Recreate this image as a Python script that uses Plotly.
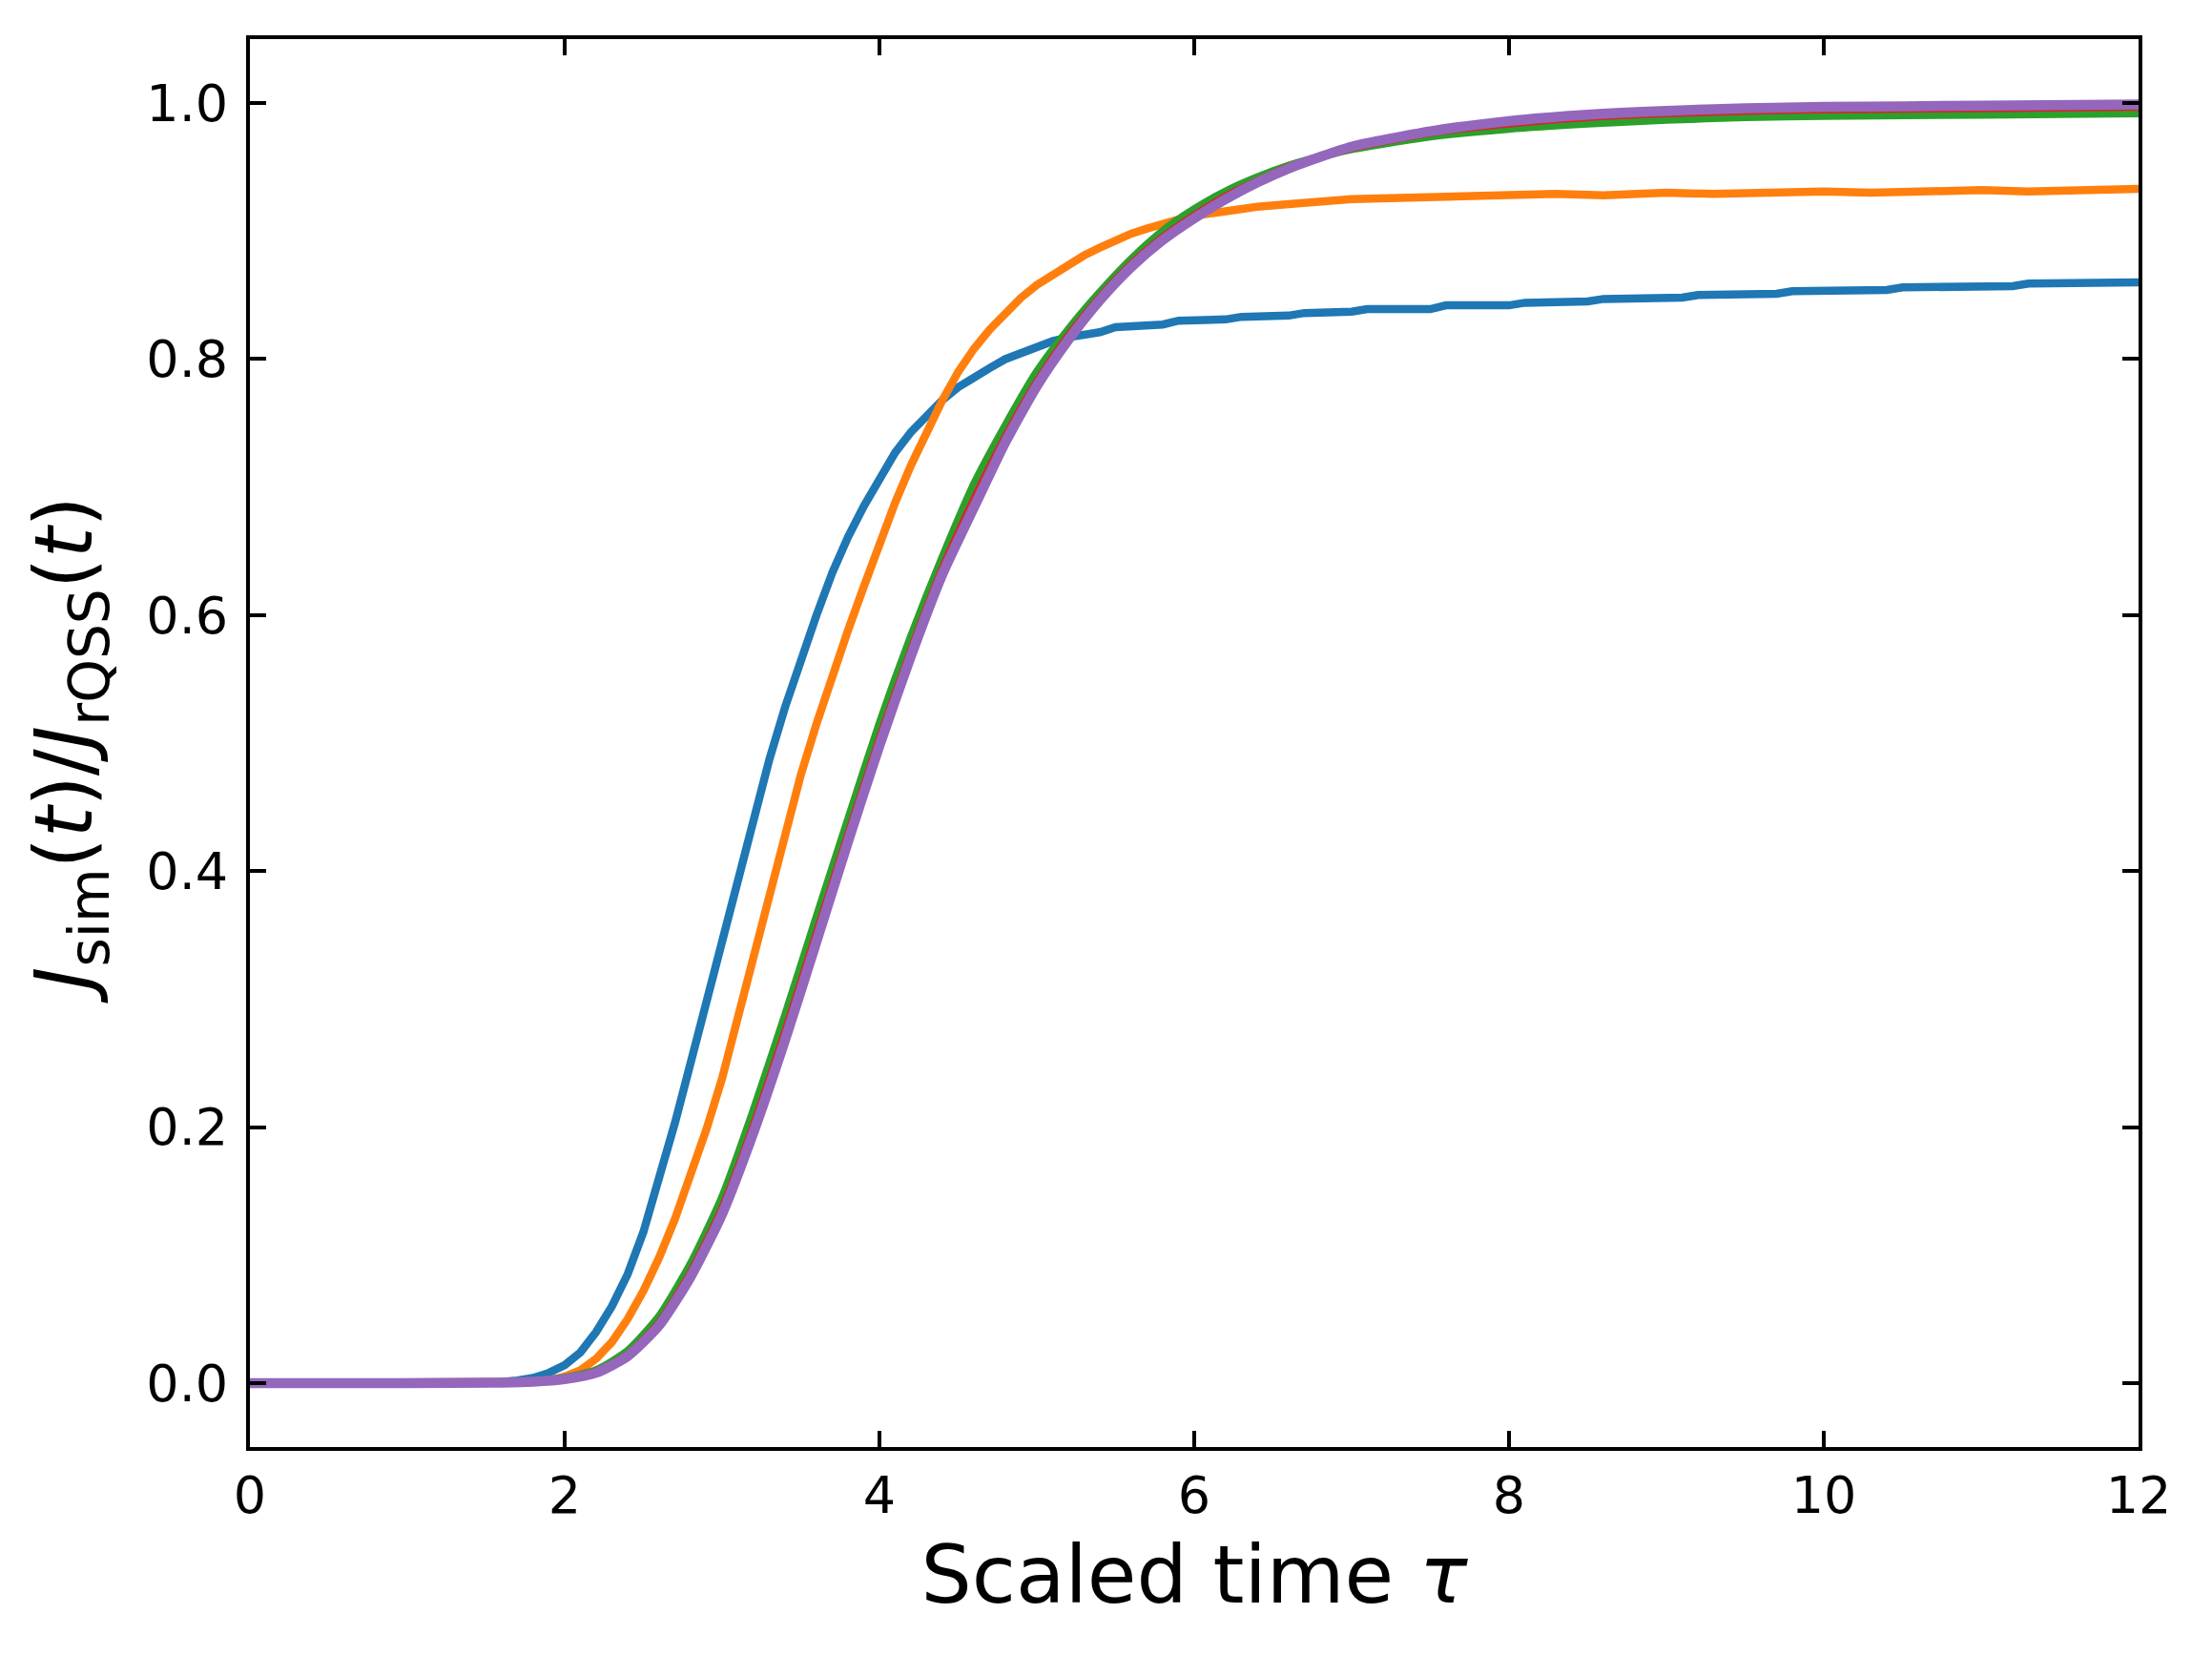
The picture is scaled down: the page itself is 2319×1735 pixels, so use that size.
"""
Normalised current J_sim / J_rQSS versus scaled time.
"""

import plotly.graph_objects as go

# blue curve (staircase plateau)
t_blue = [0, 1.5, 1.7, 1.8, 1.9, 2.0, 2.1, 2.2, 2.3, 2.4, 2.5, 2.6, 2.7, 2.8, 2.9,
          3.0, 3.1, 3.2, 3.3, 3.4, 3.5, 3.6, 3.7, 3.8, 3.9, 4.0, 4.1, 4.2, 4.3, 4.4,
          4.5, 4.6, 4.7, 4.8, 4.9, 5.0, 5.1, 5.2, 5.3, 5.4, 5.5, 5.8, 5.9, 6.2, 6.3,
          6.6, 6.7, 7.0, 7.1, 7.5, 7.6, 8.0, 8.1, 8.5, 8.6, 9.1, 9.2, 9.7, 9.8,
          10.4, 10.5, 11.2, 11.3, 12.0]
j_blue = [0, 0, 0.002, 0.004, 0.008, 0.014, 0.024, 0.04, 0.06, 0.085, 0.118, 0.158,
          0.203, 0.25, 0.298, 0.348, 0.397, 0.443, 0.487, 0.528, 0.566, 0.6, 0.633,
          0.661, 0.685, 0.706, 0.727, 0.743, 0.756, 0.768, 0.778, 0.786, 0.793, 0.8,
          0.805, 0.809, 0.814, 0.817, 0.819, 0.821, 0.825, 0.827, 0.83, 0.831, 0.833,
          0.834, 0.836, 0.837, 0.839, 0.839, 0.842, 0.842, 0.844, 0.845, 0.847, 0.848,
          0.85, 0.851, 0.853, 0.854, 0.856, 0.857, 0.859, 0.86]

# orange curve
t_orange = [0, 1.7, 1.8, 1.9, 2.0, 2.1, 2.2, 2.3, 2.4, 2.5, 2.6, 2.7, 2.8, 2.9, 3.0,
            3.1, 3.2, 3.3, 3.4, 3.5, 3.6, 3.7, 3.8, 3.9, 4.0, 4.1, 4.2, 4.3, 4.4, 4.5,
            4.6, 4.7, 4.8, 4.9, 5.0, 5.1, 5.2, 5.3, 5.4, 5.5, 5.6, 5.7, 5.8, 5.9, 6.0,
            6.2, 6.4, 6.6, 6.8, 7.0, 7.3, 7.6, 8.0, 8.3, 8.6, 9.0, 9.3, 9.6, 10.0,
            10.3, 10.6, 11.0, 11.3, 11.6, 12.0]
j_orange = [0, 0, 0.001, 0.002, 0.005, 0.01, 0.019, 0.032, 0.05, 0.072, 0.098, 0.128,
            0.162, 0.198, 0.238, 0.285, 0.335, 0.385, 0.432, 0.475, 0.515, 0.553, 0.588,
            0.622, 0.656, 0.688, 0.717, 0.744, 0.768, 0.79, 0.808, 0.823, 0.836, 0.848,
            0.858, 0.866, 0.874, 0.881, 0.887, 0.893, 0.898, 0.902, 0.906, 0.909, 0.912,
            0.916, 0.919, 0.921, 0.923, 0.925, 0.926, 0.927, 0.928, 0.929, 0.928, 0.93,
            0.929, 0.93, 0.931, 0.93, 0.931, 0.932, 0.931, 0.932, 0.933]

# smooth curves share one time grid
t_smooth = [0, 1.0, 1.6, 1.8, 2.0, 2.2, 2.4, 2.6, 2.8, 3.0, 3.2, 3.4, 3.6, 3.8, 4.0,
            4.2, 4.4, 4.6, 4.8, 5.0, 5.2, 5.4, 5.6, 5.8, 6.0, 6.2, 6.4, 6.6, 6.8, 7.0,
            7.5, 8.0, 8.5, 9.0, 9.5, 10.0, 11.0, 12.0]
j_green = [0, 0, 0.0005, 0.0015, 0.004, 0.01, 0.025, 0.052, 0.093, 0.145, 0.213, 0.287,
           0.364, 0.44, 0.515, 0.583, 0.645, 0.702, 0.748, 0.79, 0.823, 0.852, 0.878,
           0.9, 0.917, 0.931, 0.942, 0.951, 0.958, 0.964, 0.974, 0.98, 0.984, 0.987,
           0.989, 0.99, 0.991, 0.992]
j_red = [0, 0, 0.0004, 0.0012, 0.003, 0.009, 0.022, 0.047, 0.086, 0.136, 0.201, 0.274,
         0.351, 0.428, 0.503, 0.572, 0.636, 0.69, 0.739, 0.782, 0.818, 0.848, 0.874,
         0.895, 0.912, 0.927, 0.939, 0.95, 0.958, 0.965, 0.977, 0.984, 0.989, 0.992,
         0.994, 0.995, 0.996, 0.997]
j_purple = [0, 0, 0.0003, 0.001, 0.003, 0.008, 0.021, 0.045, 0.083, 0.132, 0.196, 0.268,
            0.345, 0.423, 0.498, 0.568, 0.632, 0.684, 0.735, 0.779, 0.815, 0.846, 0.872,
            0.893, 0.91, 0.925, 0.938, 0.949, 0.958, 0.966, 0.978, 0.986, 0.991, 0.994,
            0.996, 0.997, 0.998, 0.999]

FONT = "DejaVu Sans"

fig = go.Figure()
fig.add_trace(go.Scatter(x=t_blue, y=j_blue, mode="lines",
                         line=dict(color="#1f77b4", width=8.5)))
fig.add_trace(go.Scatter(x=t_orange, y=j_orange, mode="lines",
                         line=dict(color="#ff7f0e", width=8.5)))
fig.add_trace(go.Scatter(x=t_smooth, y=j_green, mode="lines",
                         line=dict(color="#2ca02c", width=8.5, shape="spline", smoothing=0.6)))
fig.add_trace(go.Scatter(x=t_smooth, y=j_red, mode="lines",
                         line=dict(color="#d62728", width=8.5, shape="spline", smoothing=0.6)))
fig.add_trace(go.Scatter(x=t_smooth, y=j_purple, mode="lines",
                         line=dict(color="#9467bd", width=10.5, shape="spline", smoothing=0.6)))

axis_style = dict(
    showline=True, linecolor="black", linewidth=4, mirror="ticks",
    ticks="inside", ticklen=17, tickwidth=4, tickcolor="black",
    showgrid=False, zeroline=False,
    tickfont=dict(family=FONT, size=54, color="black"),
)

fig.update_layout(
    width=2319, height=1735,
    margin=dict(l=254, r=85, t=33, b=226),
    paper_bgcolor="white", plot_bgcolor="white",
    showlegend=False,
    font=dict(family=FONT, color="black"),
    xaxis=dict(range=[0, 12], tickvals=[0, 2, 4, 6, 8, 10, 12],
               ticklabelstandoff=0,
               title=dict(text="Scaled time <i>τ</i>", font=dict(family=FONT, size=84),
                          standoff=24),
               **axis_style),
    yaxis=dict(range=[-0.05, 1.05], tickvals=[0, 0.2, 0.4, 0.6, 0.8, 1.0],
               tickformat=".1f", ticklabelstandoff=8,
               title=dict(text="<i>J</i><sub>sim</sub>(<i>t</i>)/<i>J</i><sub>rQSS</sub>(<i>t</i>)",
                          font=dict(family=FONT, size=83), standoff=30),
               **axis_style),
)

fig.write_html("out.html")
